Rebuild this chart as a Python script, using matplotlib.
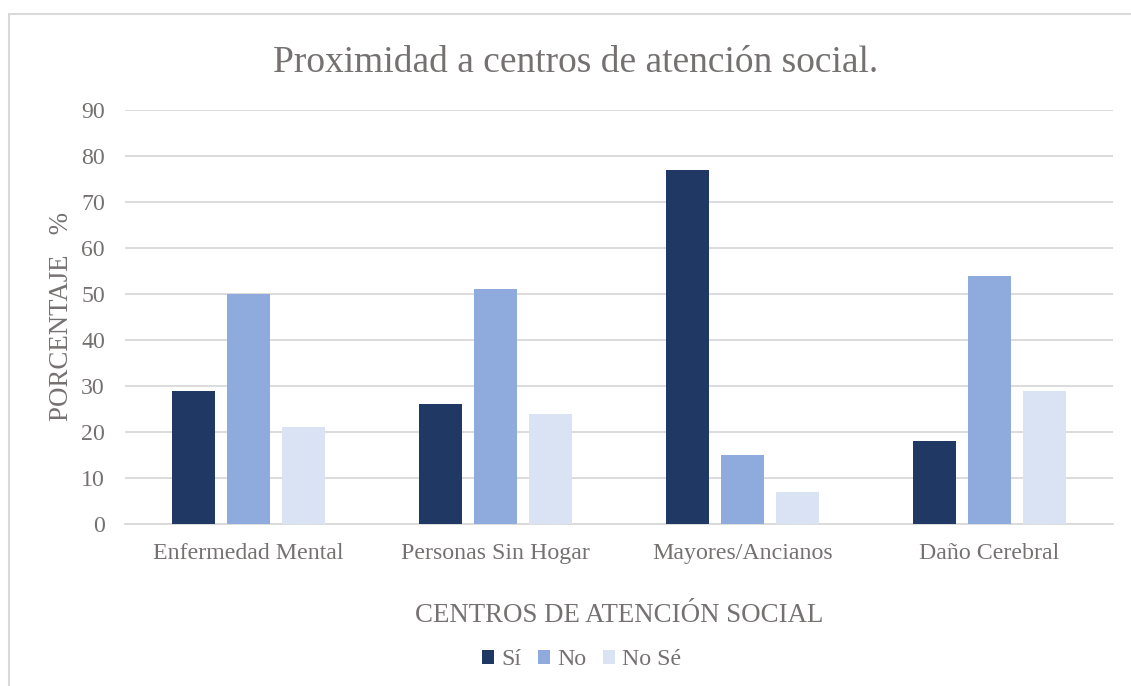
import matplotlib
matplotlib.use("Agg")
import matplotlib.pyplot as plt
import numpy as np
from matplotlib.patches import Rectangle

categories = ["Enfermedad Mental", "Personas Sin Hogar", "Mayores/Ancianos", "Daño Cerebral"]
series_names = ["Sí", "No", "No Sé"]
si = [29, 26, 77, 18]
no = [50, 51, 15, 54]
no_se = [21, 24, 7, 29]
yticks = [0, 10, 20, 30, 40, 50, 60, 70, 80, 90]

colors = ["#1F3864", "#8FAADC", "#DAE3F3"]
text_color = "#757171"
grid_color = "#D9D9D9"

plt.rcParams["font.family"] = ["Liberation Serif", "DejaVu Serif"]

fig = plt.figure(figsize=(11.31, 6.86), dpi=100)
ax = fig.add_axes([0.1105, 0.2362, 0.8736, 0.6035])

x = np.arange(len(categories))
width = 0.176
step = 0.2227
for i, (vals, name) in enumerate(zip([si, no, no_se], series_names)):
    ax.bar(x + (i - 1) * step, vals, width, color=colors[i], label=name, zorder=3)

ax.set_xlim(-0.5, len(categories) - 0.5)
ax.set_ylim(0, 90)
ax.set_yticks(yticks)
ax.set_xticks(x)
ax.set_xticklabels(categories)
ax.yaxis.grid(True, color=grid_color, linewidth=1.3, zorder=0)
ax.tick_params(axis="both", length=0, labelsize=17.2, colors=text_color)
ax.tick_params(axis="x", pad=14)
ax.tick_params(axis="y", pad=14.4)
for side in ["top", "right", "left"]:
    ax.spines[side].set_visible(False)
ax.spines["bottom"].set_color(grid_color)
ax.spines["bottom"].set_linewidth(1.3)

ax.set_xlabel("CENTROS DE ATENCIÓN SOCIAL", fontsize=19.4, color=text_color, labelpad=28)
ax.set_ylabel("PORCENTAJE   %", fontsize=19.4, color=text_color, labelpad=5)

fig.text(0.509, 0.908, "Proximidad a centros de atención social.", ha="center", va="center",
         fontsize=27, color=text_color)

leg = fig.legend(loc="center", bbox_to_anchor=(0.514, 0.038), ncol=3, frameon=False,
                 fontsize=17.2, handlelength=0.5, handleheight=0.5, handletextpad=0.3,
                 columnspacing=0.7)
for t in leg.get_texts():
    t.set_color(text_color)

# chart area border (only top and left edges visible in the reference)
fig.patches.append(Rectangle((9 / 1131, -0.05), 1.1, 1 - 14 / 686 + 0.05,
                             transform=fig.transFigure, fill=False,
                             edgecolor=grid_color, linewidth=1.5))

fig.savefig("out.png", dpi=100)
